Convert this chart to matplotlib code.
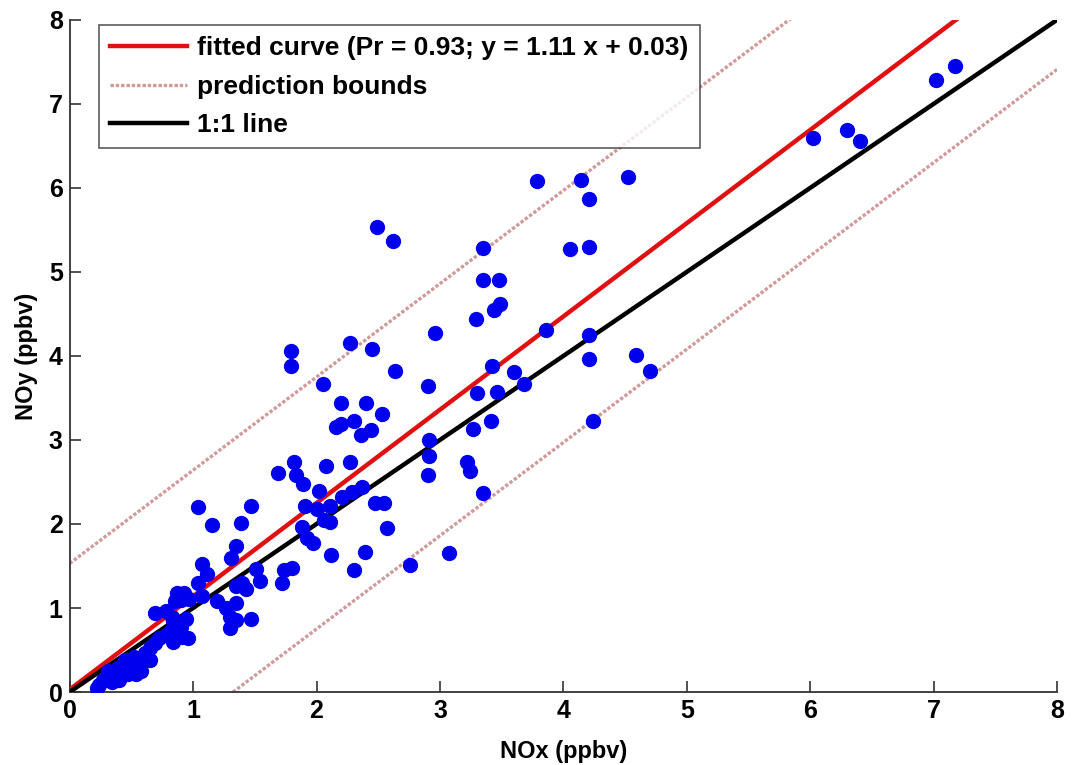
import matplotlib
matplotlib.use("Agg")
import matplotlib.pyplot as plt
import numpy as np

plt.rcParams['font.family'] = ['Liberation Sans', 'DejaVu Sans']
plt.rcParams['font.weight'] = 'bold'

nox = [7.17, 7.02, 6.30, 6.40, 6.02, 4.52, 3.79, 4.14, 4.21, 2.49, 2.62, 4.21, 4.05, 3.35,
       3.35, 3.48, 3.49, 3.44, 3.29, 2.96, 3.86, 4.21, 4.21, 4.59, 4.70, 4.24, 1.79, 1.79,
       2.27, 2.45, 3.42, 3.60, 3.68, 3.30, 3.46, 3.41, 3.27, 3.22, 3.24, 3.35, 2.64, 2.90,
       2.05, 2.20, 2.40, 2.53, 2.30, 2.20, 2.16, 2.44, 2.36, 2.91, 2.91, 2.90, 1.82, 2.27,
       2.08, 1.69, 1.83, 1.89, 2.02, 2.21, 2.29, 2.37, 1.91, 2.11, 2.00, 2.47, 2.55, 2.06,
       2.11, 1.88, 1.92, 1.97, 2.57, 2.12, 2.39, 2.30, 3.07, 2.76, 1.04, 1.15, 1.39, 1.47,
       1.35, 1.31, 1.07, 1.11, 1.51, 1.54, 1.72, 1.74, 1.80, 1.04, 1.35, 1.40, 1.43, 0.87,
       0.93, 0.85, 0.90, 0.97, 1.07, 1.19, 1.27, 1.35, 0.69, 0.78, 0.83, 0.94, 0.84, 0.87,
       1.30, 1.35, 1.47, 1.30, 0.90, 0.91, 0.96, 0.81, 0.78, 0.72, 0.69, 0.65, 0.61, 0.65,
       0.57, 0.54, 0.49, 0.43, 0.39, 0.35, 0.30, 0.27, 0.24, 0.22, 0.34, 0.40, 0.47, 0.58,
       0.31, 0.45, 0.52, 0.84]
noy = [7.45, 7.29, 6.69, 6.56, 6.59, 6.13, 6.08, 6.10, 5.87, 5.54, 5.37, 5.30, 5.27, 5.29,
       4.90, 4.90, 4.62, 4.55, 4.44, 4.27, 4.31, 4.25, 3.96, 4.01, 3.82, 3.22, 4.06, 3.88,
       4.15, 4.08, 3.88, 3.81, 3.67, 3.56, 3.57, 3.23, 3.13, 2.74, 2.63, 2.37, 3.82, 3.64,
       3.67, 3.44, 3.44, 3.31, 3.23, 3.19, 3.16, 3.12, 3.06, 3.00, 2.81, 2.58, 2.74, 2.74,
       2.69, 2.61, 2.58, 2.48, 2.39, 2.32, 2.38, 2.44, 2.21, 2.22, 2.18, 2.25, 2.25, 2.05,
       2.02, 1.96, 1.83, 1.77, 1.95, 1.63, 1.67, 1.45, 1.65, 1.51, 2.20, 1.99, 2.01, 2.22,
       1.74, 1.59, 1.52, 1.40, 1.46, 1.32, 1.30, 1.45, 1.48, 1.30, 1.26, 1.30, 1.23, 1.18,
       1.18, 1.08, 1.10, 1.11, 1.14, 1.08, 1.00, 1.06, 0.94, 0.97, 0.89, 0.87, 0.84, 0.82,
       0.89, 0.86, 0.87, 0.76, 0.77, 0.65, 0.64, 0.71, 0.68, 0.64, 0.58, 0.52, 0.46, 0.38,
       0.30, 0.22, 0.34, 0.32, 0.28, 0.24, 0.18, 0.14, 0.08, 0.05, 0.12, 0.14, 0.22, 0.25,
       0.25, 0.38, 0.42, 0.60]

slope = 1.11
intercept = 0.03
bound_offset = 1.50
fit_label = "fitted curve (Pr = 0.93; y = 1.11 x + 0.03)"

fig = plt.figure(figsize=(10.72, 7.65), dpi=100)
ax = fig.add_axes([0.065, 0.0954, 0.921, 0.8786])

xx = np.linspace(0, 8, 400)
ax.plot(xx, slope * xx + intercept, color='#e01010', lw=3.2, label=fit_label, zorder=3)
ax.plot(xx, slope * xx + intercept + bound_offset, color='#d09a9a', lw=2.4,
        ls=(0, (1, 0.6)), label='prediction bounds', zorder=2)
ax.plot(xx, slope * xx + intercept - bound_offset, color='#d09a9a', lw=2.4,
        ls=(0, (1, 0.6)), zorder=2)
ax.plot(xx, xx, color='black', lw=3.2, label='1:1 line', zorder=3)
ax.plot(nox, noy, 'o', color='#0000ee', ms=10, mec='#0000ee', zorder=4, label='_nolegend_')

ax.set_xlim(0, 8)
ax.set_ylim(0, 8)
ax.set_xticks(range(0, 9))
ax.set_yticks(range(0, 9))
ax.tick_params(direction='in', length=8, width=1.2, labelsize=18, color='#333333', pad=5)
for lab in ax.get_xticklabels() + ax.get_yticklabels():
    lab.set_fontweight('bold')
ax.spines['top'].set_visible(False)
ax.spines['right'].set_visible(False)
for s in ('left', 'bottom'):
    ax.spines[s].set_linewidth(1.3)
    ax.spines[s].set_color('#333333')

ax.set_xlabel('NOx (ppbv)', fontsize=17, fontweight='bold', labelpad=12)
ax.set_ylabel('NOy (ppbv)', fontsize=17, fontweight='bold', labelpad=8)

leg = ax.legend(loc='upper left', bbox_to_anchor=(0.030, 0.992), fontsize=19,
                handlelength=2.9, frameon=True, fancybox=False, borderpad=0.42,
                labelspacing=0.55, handletextpad=0.4, borderaxespad=0)
leg.get_frame().set_edgecolor('#333333')
leg.get_frame().set_linewidth(1.2)
for t in leg.get_texts():
    t.set_fontweight('bold')

fig.savefig('out.png', dpi=100)
